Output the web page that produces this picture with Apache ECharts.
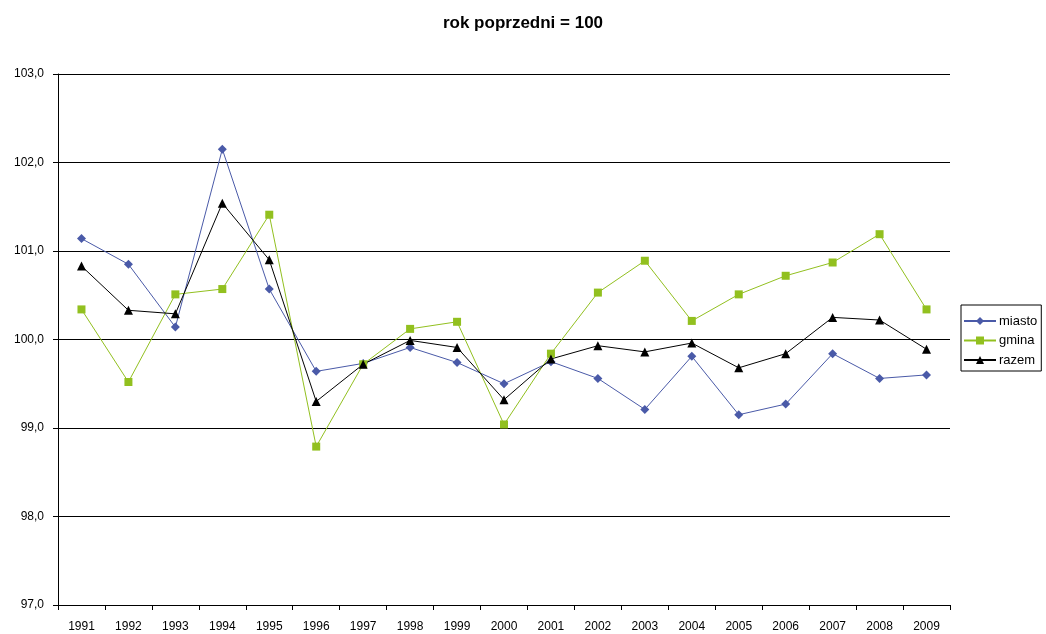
<!DOCTYPE html>
<html>
<head>
<meta charset="utf-8">
<script src="https://cdn.jsdelivr.net/npm/echarts@6/dist/echarts.min.js"></script>
<style>
  html, body { margin: 0; padding: 0; background: #fff; }
  #chart { width: 1046px; height: 634px; }
</style>
</head>
<body>
<div id="chart"></div>
<script>
  // lata
  var years = ['1991', '1992', '1993', '1994', '1995', '1996', '1997', '1998', '1999', '2000',
    '2001', '2002', '2003', '2004', '2005', '2006', '2007', '2008', '2009'];

  // rok poprzedni = 100
  var miasto = [101.14, 100.85, 100.14, 102.15, 100.57, 99.64, 99.73, 99.91, 99.74, 99.50,
    99.75, 99.56, 99.21, 99.81, 99.15, 99.27, 99.84, 99.56, 99.60];
  var gmina = [100.34, 99.52, 100.51, 100.57, 101.41, 98.79, 99.72, 100.12, 100.20, 99.04,
    99.84, 100.53, 100.89, 100.21, 100.51, 100.72, 100.87, 101.19, 100.34];
  var razem = [100.83, 100.33, 100.29, 101.54, 100.90, 99.30, 99.72, 99.99, 99.91, 99.32,
    99.78, 99.93, 99.86, 99.96, 99.68, 99.84, 100.25, 100.22, 99.89];

  var chart = echarts.init(document.getElementById('chart'));

  var font = 'Liberation Sans, Arial, sans-serif';

  function lineSeries(name, data, color, symbol, size) {
    return {
      name: name,
      type: 'line',
      data: data,
      symbol: symbol,
      symbolSize: size,
      showAllSymbol: true,
      animation: false,
      lineStyle: { color: color, width: 1 },
      itemStyle: { color: color, borderWidth: 0 }
    };
  }

  var option = {
    backgroundColor: '#fff',
    animation: false,
    title: {
      text: 'rok poprzedni = 100',
      left: 'center',
      top: 10,
      textStyle: { fontFamily: font, fontSize: 17, fontWeight: 'bold', color: '#000' }
    },
    legend: {
      orient: 'vertical',
      left: 961,
      top: 305,
      padding: [9, 4, 4, 2],
      itemGap: 5.5,
      itemWidth: 32,
      itemHeight: 10,
      borderColor: '#000',
      borderWidth: 1,
      borderRadius: 0,
      textStyle: { fontFamily: font, fontSize: 13, lineHeight: 14, color: '#000', padding: [0, 0, 0, -2] },
      data: ['miasto', 'gmina', 'razem']
    },
    grid: { left: 58, right: 96, top: 74, bottom: 29 },
    xAxis: {
      type: 'category',
      data: years,
      boundaryGap: true,
      axisLine: { lineStyle: { color: '#000', width: 1 } },
      axisTick: { show: true, length: 5, inside: false, lineStyle: { color: '#000' } },
      axisLabel: { fontFamily: font, fontSize: 12, color: '#000', margin: 16 },
      splitLine: { show: false }
    },
    yAxis: {
      type: 'value',
      min: 97,
      max: 103,
      interval: 1,
      axisLine: { show: true, lineStyle: { color: '#000', width: 1 } },
      axisTick: { show: true, length: 5, lineStyle: { color: '#000' } },
      axisLabel: {
        fontFamily: font, fontSize: 12, color: '#000', margin: 14,
        formatter: function (v) { return v.toFixed(1).replace('.', ','); }
      },
      splitLine: { show: true, lineStyle: { color: '#000', width: 1 } }
    },
    series: [
      lineSeries('miasto', miasto, '#4a5aa8', 'diamond', 9),
      lineSeries('gmina', gmina, '#92c01f', 'rect', 8),
      lineSeries('razem', razem, '#000000', 'triangle', 9)
    ]
  };

  chart.setOption(option);
</script>
</body>
</html>
